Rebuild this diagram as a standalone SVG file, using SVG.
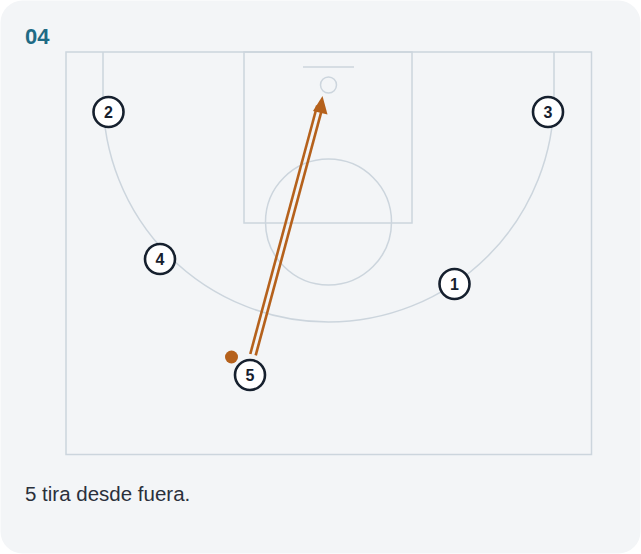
<svg xmlns="http://www.w3.org/2000/svg" width="641" height="554" viewBox="0 0 641 554">
<defs>
<style>
.court{fill:none;stroke:#ccd5dd;stroke-width:1.5}
.pl circle{fill:#ffffff;stroke:#16202e;stroke-width:2.6}
.pl text{font-family:"Liberation Sans",Arial,sans-serif;font-weight:bold;font-size:16px;fill:#16202e;text-anchor:middle}
.shot{stroke:#b5611c;stroke-width:2.6;fill:none}
</style>
</defs>
<rect x="0" y="0" width="641" height="554" fill="#ffffff"/>
<rect x="0.5" y="0.5" width="640" height="553" rx="22" fill="#f3f5f7"/>
<text x="25" y="43.5" font-family="'Liberation Sans',Arial,sans-serif" font-weight="bold" font-size="22" fill="#1f6b85">04</text>
<g id="court">
<rect class="court" x="66" y="52" width="525.5" height="402.5"/>
<rect class="court" x="244" y="52" width="168" height="171"/>
<circle class="court" cx="328.5" cy="222" r="63"/>
<line class="court" x1="303" y1="67" x2="354" y2="67"/>
<circle class="court" cx="328.5" cy="85" r="8"/>
<path class="court" d="M103 52 V96.5 A225.5 225.5 0 0 0 554 96.5 V52"/>
</g>
<g id="connectors">
<line class="shot" x1="250.3" y1="354" x2="317.2" y2="105.5"/>
<line class="shot" x1="255.7" y1="355.4" x2="322.6" y2="106.9"/>
<polygon points="322.5,96 313,111 327.5,114.5" fill="#b5611c"/>
</g>
<g id="ball"><circle cx="231.5" cy="357" r="6.5" fill="#b5611c"/></g>
<g id="p2" class="pl"><circle cx="108.5" cy="112" r="15"/><text x="108.5" y="117.8">2</text></g>
<g id="p3" class="pl"><circle cx="548" cy="112" r="15"/><text x="548" y="117.8">3</text></g>
<g id="p4" class="pl"><circle cx="160" cy="259" r="15"/><text x="160" y="264.8">4</text></g>
<g id="p1" class="pl"><circle cx="454.5" cy="284" r="15"/><text x="454.5" y="289.8">1</text></g>
<g id="p5" class="pl"><circle cx="250" cy="375" r="15"/><text x="250" y="380.8">5</text></g>
<text x="25" y="501" font-family="'Liberation Sans',Arial,sans-serif" font-size="20.5" fill="#2a303b">5 tira desde fuera.</text>
</svg>
